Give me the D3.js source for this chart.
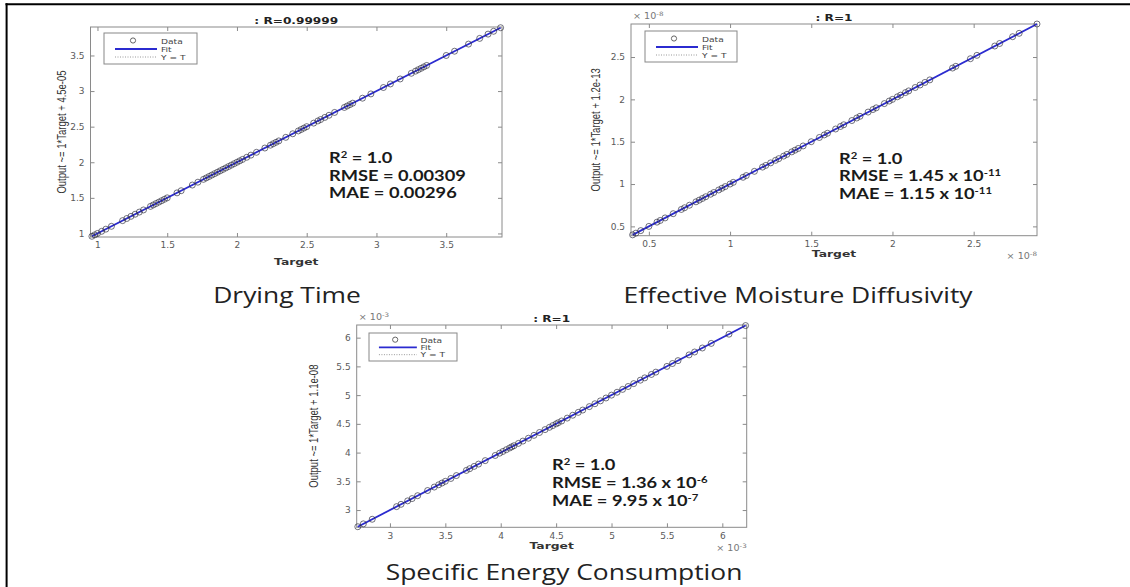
<!DOCTYPE html>
<html><head><meta charset="utf-8">
<script src="https://cdn.jsdelivr.net/npm/d3@7"></script>
<style>html,body{margin:0;padding:0;background:#fff;}svg{display:block;}</style>
</head><body>
<svg id="c" width="1130" height="587"></svg>
<script>
// ---------------- DATA ----------------
const captions = ["Drying Time", "Effective Moisture Diffusivity", "Specific Energy Consumption"];
const titles = [": R=0.99999", ": R=1", ": R=1"];
const yLabels = ["Output ~= 1*Target + 4.5e-05", "Output ~= 1*Target + 1.2e-13", "Output ~= 1*Target + 1.1e-08"];
const xLabel = "Target";
const legendLabels = ["Data", "Fit", "Y = T"];
const exponents = [null, "-8", "-3"];

// Drying time (target / output)
const dryTarget = [0.96,0.98,1.0,1.03,1.06,1.1,1.18,1.21,1.24,1.27,1.3,1.33,1.38,1.4,1.42,1.44,1.46,1.48,1.5,1.57,1.6,1.68,1.72,1.76,1.78,1.8,1.82,1.84,1.86,1.88,1.9,1.92,1.94,1.96,1.98,2.0,2.02,2.04,2.07,2.1,2.14,2.2,2.24,2.26,2.28,2.3,2.35,2.4,2.44,2.46,2.48,2.5,2.55,2.58,2.6,2.63,2.66,2.7,2.77,2.79,2.81,2.83,2.9,2.96,3.05,3.1,3.17,3.25,3.28,3.3,3.32,3.34,3.36,3.5,3.56,3.66,3.74,3.8,3.84,3.89];
const dryOutput = [0.96,0.98,1.0,1.03,1.06,1.1,1.18,1.21,1.24,1.27,1.3,1.33,1.38,1.4,1.42,1.44,1.46,1.48,1.5,1.57,1.6,1.68,1.72,1.76,1.78,1.8,1.82,1.84,1.86,1.88,1.9,1.92,1.94,1.96,1.98,2.0,2.02,2.04,2.07,2.1,2.14,2.2,2.24,2.26,2.28,2.3,2.35,2.4,2.44,2.46,2.48,2.5,2.55,2.58,2.6,2.63,2.66,2.7,2.77,2.79,2.81,2.83,2.9,2.96,3.05,3.1,3.17,3.25,3.28,3.3,3.32,3.34,3.36,3.5,3.56,3.66,3.74,3.8,3.84,3.89];
const dryTicks = [1, 1.5, 2, 2.5, 3, 3.5];
const dryDomain = [0.95, 3.9];
const dryStats = [["R","2"," = 1.0"],["RMSE = 0.00309"],["MAE = 0.00296"]];

// Effective moisture diffusivity (x 1e-8)
const difTarget = [0.4,0.42,0.45,0.5,0.55,0.57,0.6,0.65,0.7,0.72,0.75,0.79,0.81,0.83,0.85,0.88,0.9,0.93,0.95,0.97,1.0,1.02,1.08,1.1,1.15,1.2,1.22,1.25,1.28,1.3,1.33,1.35,1.38,1.4,1.42,1.45,1.5,1.55,1.58,1.6,1.65,1.68,1.7,1.75,1.78,1.8,1.85,1.88,1.9,1.95,1.98,2.0,2.03,2.05,2.08,2.1,2.14,2.17,2.2,2.23,2.37,2.39,2.48,2.52,2.63,2.66,2.74,2.78,2.89];
const difOutput = [0.4,0.42,0.45,0.5,0.55,0.57,0.6,0.65,0.7,0.72,0.75,0.79,0.81,0.83,0.85,0.88,0.9,0.93,0.95,0.97,1.0,1.02,1.08,1.1,1.15,1.2,1.22,1.25,1.28,1.3,1.33,1.35,1.38,1.4,1.42,1.45,1.5,1.55,1.58,1.6,1.65,1.68,1.7,1.75,1.78,1.8,1.85,1.88,1.9,1.95,1.98,2.0,2.03,2.05,2.08,2.1,2.14,2.17,2.2,2.23,2.37,2.39,2.48,2.52,2.63,2.66,2.74,2.78,2.89];
const difTicks = [0.5, 1, 1.5, 2, 2.5];
const difDomain = [0.39, 2.89];
const difStats = [["R","2"," = 1.0"],["RMSE = 1.45 x 10","-11"],["MAE = 1.15 x 10","-11"]];

// Specific energy consumption (x 1e-3)
const secTarget = [2.71,2.76,2.84,3.06,3.1,3.16,3.2,3.25,3.34,3.4,3.44,3.47,3.5,3.55,3.6,3.69,3.72,3.76,3.8,3.86,3.95,3.99,4.02,4.05,4.08,4.1,4.12,4.16,4.2,4.25,4.3,4.35,4.4,4.44,4.47,4.5,4.52,4.55,4.6,4.65,4.7,4.74,4.8,4.85,4.9,4.95,5.0,5.05,5.1,5.15,5.2,5.26,5.3,5.36,5.4,5.5,5.55,5.6,5.7,5.75,5.82,5.9,6.06,6.21];
const secOutput = [2.71,2.76,2.84,3.06,3.1,3.16,3.2,3.25,3.34,3.4,3.44,3.47,3.5,3.55,3.6,3.69,3.72,3.76,3.8,3.86,3.95,3.99,4.02,4.05,4.08,4.1,4.12,4.16,4.2,4.25,4.3,4.35,4.4,4.44,4.47,4.5,4.52,4.55,4.6,4.65,4.7,4.74,4.8,4.85,4.9,4.95,5.0,5.05,5.1,5.15,5.2,5.26,5.3,5.36,5.4,5.5,5.55,5.6,5.7,5.75,5.82,5.9,6.06,6.21];
const secTicks = [3, 3.5, 4, 4.5, 5, 5.5, 6];
const secDomain = [2.7, 6.22];
const secStats = [["R","2"," = 1.0"],["RMSE = 1.36 x 10","-6"],["MAE = 9.95 x 10","-7"]];

// ---------------- LAYOUT ----------------
const layout = [
  {box:{l:90.5,r:502,t:27,b:237}, titleY:24, targetY:265, cap:{x:287,y:303}, ylabX:63,
   stats:{x:329,y:[163,180.5,198]}, legend:{x:104,y:33,w:93,h:31}},
  {box:{l:631,r:1037,t:24,b:235.7}, titleY:21, targetY:257, cap:{x:798,y:303}, ylabX:597,
   stats:{x:839,y:[163.5,181,198.5]}, legend:{x:645,y:31,w:92,h:31}},
  {box:{l:356.7,r:746.7,t:325,b:527.3}, titleY:322, targetY:549, cap:{x:564,y:580}, ylabX:315,
   stats:{x:552,y:[470,488,506]}, legend:{x:369,y:333,w:88,h:28}}
];

const datasets = [
  {t:dryTarget,o:dryOutput,ticks:dryTicks,dom:dryDomain,stats:dryStats},
  {t:difTarget,o:difOutput,ticks:difTicks,dom:difDomain,stats:difStats},
  {t:secTarget,o:secOutput,ticks:secTicks,dom:secDomain,stats:secStats}
];

const svg = d3.select("#c");

// outer frame
svg.append("line").attr("x1",5.5).attr("x2",1130).attr("y1",4.2).attr("y2",4.2).attr("stroke","#000").attr("stroke-width",2);
svg.append("line").attr("x1",6.6).attr("x2",6.6).attr("y1",3.2).attr("y2",587).attr("stroke","#000").attr("stroke-width",2);

const tickFont = "'DejaVu Sans', sans-serif";
const fmt = d => d3.format("")(d);

datasets.forEach((ds, i) => {
  const L = layout[i], B = L.box;
  const x = d3.scaleLinear().domain(ds.dom).range([B.l, B.r]);
  const y = d3.scaleLinear().domain(ds.dom).range([B.b, B.t]);
  const g = svg.append("g");

  g.append("rect").attr("x",B.l).attr("y",B.t).attr("width",B.r-B.l).attr("height",B.b-B.t)
    .attr("fill","#fff").attr("stroke","#8a8a8a").attr("stroke-width",1);

  const styleAxis = (sel, labels) => {
    sel.select(".domain").remove();
    sel.selectAll(".tick line").attr("stroke","#8a8a8a");
    sel.selectAll(".tick text").attr("fill","#5a5a5a").style("font-family",tickFont).style("font-size","9px");
    if (!labels) sel.selectAll(".tick text").remove();
  };
  g.append("g").attr("transform",`translate(0,${B.b})`)
    .call(d3.axisBottom(x).tickValues(ds.ticks).tickSize(-4).tickPadding(5).tickFormat(fmt))
    .call(s=>styleAxis(s,true));
  g.append("g").attr("transform",`translate(0,${B.t})`)
    .call(d3.axisTop(x).tickValues(ds.ticks).tickSize(-4).tickFormat(""))
    .call(s=>styleAxis(s,false));
  g.append("g").attr("transform",`translate(${B.l},0)`)
    .call(d3.axisLeft(y).tickValues(ds.ticks).tickSize(-4).tickPadding(6).tickFormat(fmt))
    .call(s=>styleAxis(s,true));
  g.append("g").attr("transform",`translate(${B.r},0)`)
    .call(d3.axisRight(y).tickValues(ds.ticks).tickSize(-4).tickFormat(""))
    .call(s=>styleAxis(s,false));

  // Y = T dotted
  g.append("line").attr("x1",x(ds.dom[0])).attr("y1",y(ds.dom[0])).attr("x2",x(ds.dom[1])).attr("y2",y(ds.dom[1]))
    .attr("stroke","#999").attr("stroke-dasharray","1,2").attr("stroke-width",1);
  // Fit line across data range
  const ext = d3.extent(ds.t);
  g.append("line").attr("x1",x(ext[0])).attr("y1",y(ext[0])).attr("x2",x(ext[1])).attr("y2",y(ext[1]))
    .attr("stroke","#2b2bd0").attr("stroke-width",1.8);
  // data circles
  g.selectAll("circle.pt").data(ds.t).join("circle").attr("class","pt")
    .attr("cx",d=>x(d)).attr("cy",(d,j)=>y(ds.o[j])).attr("r",3)
    .attr("fill","none").attr("stroke","rgba(45,45,60,0.75)").attr("stroke-width",0.9);

  // title
  g.append("text").attr("transform",`translate(${(B.l+B.r)/2},${L.titleY}) scale(1.35,1)`)
    .attr("text-anchor","middle").style("font-family",tickFont).style("font-weight","bold").style("font-size","9px")
    .attr("fill","#222").text(titles[i]);
  // x label
  g.append("text").attr("transform",`translate(${(B.l+B.r)/2},${L.targetY}) scale(1.3,1)`)
    .attr("text-anchor","middle").style("font-family",tickFont).style("font-weight","bold").style("font-size","9.5px")
    .attr("fill","#333").text(xLabel);
  // y label
  g.append("text").attr("transform",`translate(${L.ylabX},${(B.t+B.b)/2}) scale(1.3,1) rotate(-90)`)
    .attr("text-anchor","middle").attr("dominant-baseline","middle")
    .style("font-family","'Liberation Sans', sans-serif").style("font-size","9.5px").attr("fill","#333").text(yLabels[i]);

  // exponent labels
  if (exponents[i]) {
    const e1 = g.append("text").attr("transform",`translate(${B.l+2},${B.t-5}) scale(1.2,1)`)
      .style("font-family",tickFont).style("font-size","8px").attr("fill","#777");
    e1.append("tspan").text("\u00d7 10");
    e1.append("tspan").attr("dy",-3).style("font-size","6px").text(exponents[i]);
    const e2 = g.append("text").attr("transform",`translate(${B.r},${L.targetY+2}) scale(1.2,1)`)
      .attr("text-anchor","end").style("font-family",tickFont).style("font-size","8px").attr("fill","#777");
    e2.append("tspan").text("\u00d7 10");
    e2.append("tspan").attr("dy",-3).style("font-size","6px").text(exponents[i]);
  }

  // legend
  const lg = L.legend, k = lg.h/31;
  g.append("rect").attr("x",lg.x).attr("y",lg.y).attr("width",lg.w).attr("height",lg.h)
    .attr("fill","#fff").attr("stroke","#888").attr("stroke-width",1);
  const rows = [lg.y+8.5*k, lg.y+16*k, lg.y+24*k];
  g.append("circle").attr("cx",lg.x+29*k).attr("cy",rows[0]-1).attr("r",2.6)
    .attr("fill","none").attr("stroke","#555").attr("stroke-width",0.9);
  g.append("line").attr("x1",lg.x+11*k).attr("x2",lg.x+53*k).attr("y1",rows[1]).attr("y2",rows[1])
    .attr("stroke","#2b2bd0").attr("stroke-width",1.8);
  g.append("line").attr("x1",lg.x+11*k).attr("x2",lg.x+53*k).attr("y1",rows[2]).attr("y2",rows[2])
    .attr("stroke","#999").attr("stroke-dasharray","1,1.5").attr("stroke-width",1);
  legendLabels.forEach((t,j)=>{
    g.append("text").attr("transform",`translate(${lg.x+57*k},${rows[j]+2.6}) scale(1.3,1)`)
      .style("font-family",tickFont).style("font-size","7px").attr("fill","#444").text(t);
  });

  // statistics
  ds.stats.forEach((parts,j)=>{
    const t = g.append("text").attr("transform",`translate(${L.stats.x},${L.stats.y[j]}) scale(1.26,1)`)
      .style("font-family","Lato, sans-serif").style("font-weight","bold").style("font-size","14.5px").attr("fill","#1a1a1a");
    t.append("tspan").text(parts[0]);
    if (parts[1]) t.append("tspan").attr("dy",-5).style("font-size","9px").text(parts[1]);
    if (parts[2]) t.append("tspan").attr("dy",5).text(parts[2]);
  });

  // caption
  svg.append("text").attr("transform",`translate(${L.cap.x},${L.cap.y}) scale(1.2,1)`)
    .attr("text-anchor","middle").style("font-family","'Open Sans', sans-serif").style("font-size","22px")
    .attr("fill","#222").text(captions[i]);
});
</script>
</body></html>
